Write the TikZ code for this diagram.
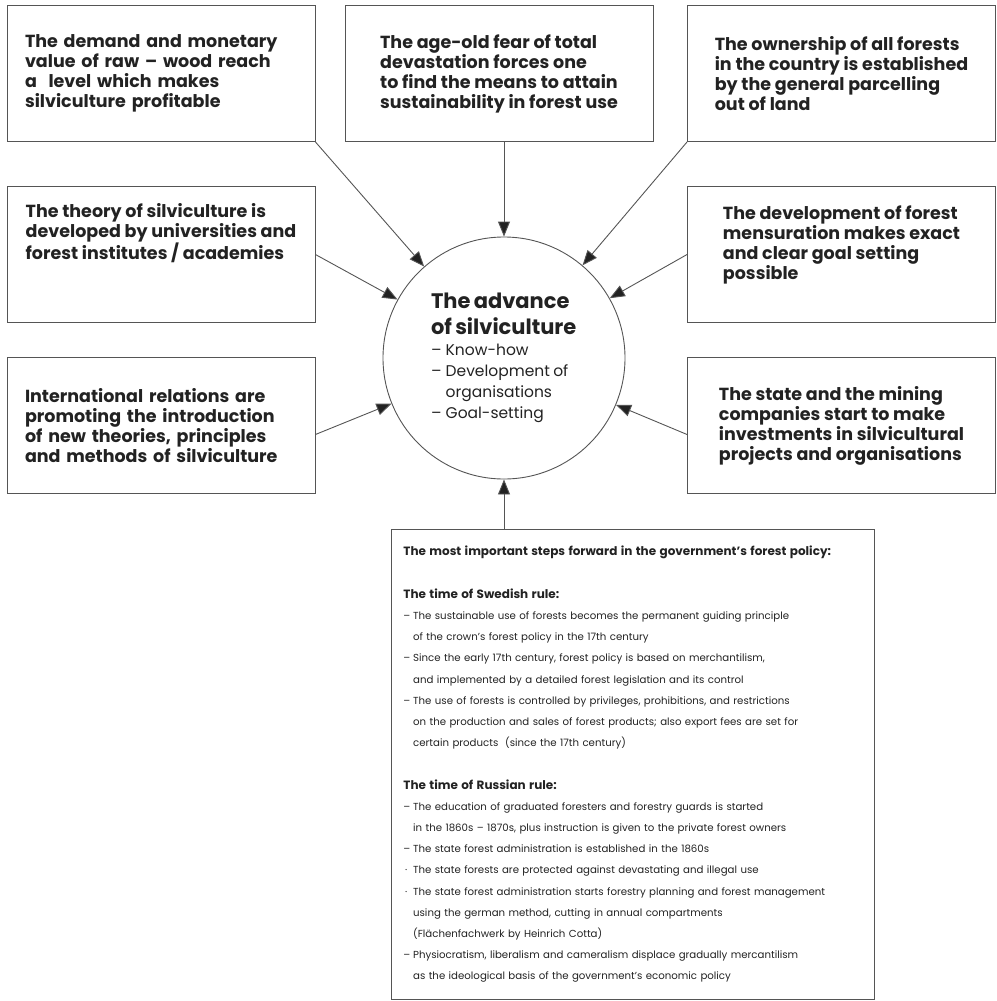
\documentclass[tikz,border=0pt]{standalone}
\usepackage{fontspec}
\setmainfont{Poppins}
\usepackage{tikz}
\usetikzlibrary{arrows.meta, positioning, shapes}
\definecolor{ink}{RGB}{34,34,34}
\definecolor{frame}{RGB}{85,85,85}
\newcommand{\dashit}{\makebox[0.95em][l]{–}}
\newcommand{\dotit}{\makebox[0.95em][l]{\,·}}
\newcommand{\contin}{\hspace*{0.95em}}

\begin{document}
\begin{tikzpicture}[x=1pt, y=-1pt,
  cause/.style={draw=frame, line width=0.9pt, minimum width=308pt, minimum height=136pt,
    inner sep=0pt, align=left, text=ink, font=\bfseries\fontsize{17.5}{20}\selectfont},
  feed/.style={draw=frame, line width=0.9pt, -{Triangle[length=15pt, width=12pt, fill=ink]}}]
  \useasboundingbox (0,0) rectangle (996,1001);
  % the advance in the middle
  \node[circle, draw=frame, line width=0.9pt, minimum size=242pt, inner sep=0pt,
    text width=146pt, align=left, text=ink] (adv) at (504,358)
    {{\bfseries\fontsize{21}{26}\selectfont The advance\\of silviculture\par}
     {\fontsize{15.5}{21}\selectfont \dashit Know-how\\\dashit Development of\\\contin organisations\\\dashit Goal-setting\par}};
  % top row
  \node[cause, text width=272pt] (tl) at (161,73.5) {The demand and monetary\\value of raw – wood reach\\a\ \ level which makes\\silviculture profitable};
  \node[cause] (tm) at (499,73.5) {The age-old fear of total\\devastation forces one\\to find the means to attain\\sustainability in forest use};
  \node[cause] (tr) at (841.5,73.5) {The ownership of all forests\\in the country is established\\by the general parcelling\\out of land};
  % middle row
  \node[cause] (ml) at (161,254.5) {The theory of silviculture is\\developed by universities and\\forest institutes / academies\rule[-46pt]{0pt}{0pt}};
  \node[cause] (mr) at (841.5,254.5) {The development of forest\\mensuration makes exact\\and clear goal setting\\possible\rule[-24pt]{0pt}{0pt}};
  % lower row
  \node[cause, text width=272pt] (bl) at (161,425.5) {International relations are\\promoting the introduction\\of new theories, principles\\and methods of silviculture};
  \node[cause] (br) at (841.5,425.5) {The state and the mining\\companies start to make\\investments in silvicultural\\projects and organisations};
  % policy box
  \node[draw=frame, line width=0.9pt, anchor=north west, minimum width=483pt, minimum height=470pt,
    inner xsep=12pt, text width=459pt, align=left, text=ink,
    font=\fontsize{10.2}{21.2}\selectfont] (pol) at (391,529) {%
    {\bfseries\fontsize{12}{21.2}\selectfont The most important steps forward in the government’s forest policy:}\\[21.2pt]
    {\bfseries\fontsize{12}{21.2}\selectfont The time of Swedish rule:}\\
    \dashit The sustainable use of forests becomes the permanent guiding principle\\
    \contin of the crown’s forest policy in the 17th century\\
    \dashit Since the early 17th century, forest policy is based on merchantilism,\\
    \contin and implemented by a detailed forest legislation and its control\\
    \dashit The use of forests is controlled by privileges, prohibitions, and restrictions\\
    \contin on the production and sales of forest products; also export fees are set for\\
    \contin certain products\ \ (since the 17th century)\\[21.2pt]
    {\bfseries\fontsize{12}{21.2}\selectfont The time of Russian rule:}\\
    \dashit The education of graduated foresters and forestry guards is started\\
    \contin in the 1860s – 1870s, plus instruction is given to the private forest owners\\
    \dashit The state forest administration is established in the 1860s\\
    \dotit The state forests are protected against devastating and illegal use\\
    \dotit The state forest administration starts forestry planning and forest management\\
    \contin using the german method, cutting in annual compartments\\
    \contin (Flächenfachwerk by Heinrich Cotta)\\
    \dashit Physiocratism, liberalism and cameralism displace gradually mercantilism\\
    \contin as the ideological basis of the government’s economic policy};
  % arrows into the circle
  \draw[feed] (tl.south east) -- (adv);
  \draw[feed] (adv.north |- tm.south) -- (adv.north);
  \draw[feed] (tr.south west) -- (adv);
  \draw[feed] (ml.east) -- (adv);
  \draw[feed] (mr.west) -- (adv);
  \draw[feed] ([yshift=-9pt]bl.east) -- (adv);
  \draw[feed] ([yshift=-9pt]br.west) -- (adv);
  \draw[feed] (pol.north -| adv.south) -- (adv.south);
\end{tikzpicture}
\end{document}
